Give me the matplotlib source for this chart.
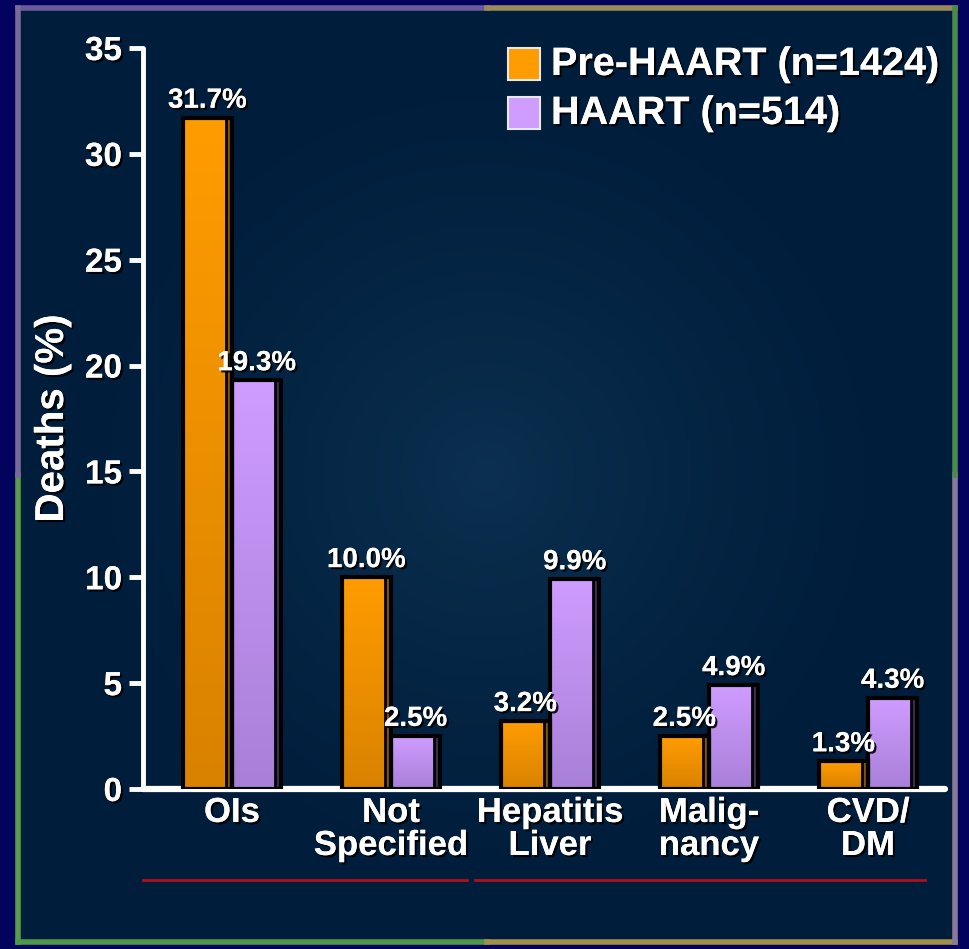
import numpy as np
import matplotlib
matplotlib.use("Agg")
import matplotlib.pyplot as plt
import matplotlib.patheffects as pe
from matplotlib.patches import Rectangle
from matplotlib.lines import Line2D
from matplotlib.colors import LinearSegmentedColormap

# Causes of death, share of all deaths (%)
categories = ["OIs", "Not\nSpecified", "Hepatitis\nLiver", "Malig-\nnancy", "CVD/\nDM"]
pre_haart = [31.7, 10.0, 3.2, 2.5, 1.3]
haart = [19.3, 2.5, 9.9, 4.9, 4.3]
series_names = ["Pre-HAART (n=1424)", "HAART (n=514)"]
y_ticks = [0, 5, 10, 15, 20, 25, 30, 35]

plt.rcParams["font.family"] = ["Liberation Sans", "DejaVu Sans"]
plt.rcParams["font.weight"] = "bold"

W, H = 969, 949
fig = plt.figure(figsize=(W / 100, H / 100), dpi=100)
fig.patch.set_facecolor("#03035e")

shadow = [pe.withSimplePatchShadow(offset=(1.6, -1.6), shadow_rgbFace="black", alpha=0.9),
          pe.Normal()]

# Slide panel with a soft radial glow
bg = fig.add_axes([18 / W, 1 - 942 / H, (955 - 18) / W, (942 - 8) / H])
yy, xx = np.mgrid[-1:1:300j, -1:1:300j]
r = np.sqrt(xx ** 2 + yy ** 2)
glow = np.clip(1 - r, 0, 1) ** 1.5
panel_cmap = LinearSegmentedColormap.from_list("panel", ["#001d3b", "#0c3050"])
bg.imshow(glow, cmap=panel_cmap, extent=[0, 1, 0, 1], aspect="auto", vmin=0, vmax=1)
bg.set_xlim(0, 1)
bg.set_ylim(0, 1)
bg.axis("off")
# textured frame edges
for (x0, y0, x1, y1, c) in [
    (0, 1, 0.5, 1, "#6a5a9a"), (0.5, 1, 1, 1, "#9a8a5a"),
    (0, 0, 0, 0.5, "#5a9a4a"), (0, 0.5, 0, 1, "#7a6a9a"),
    (0, 0, 0.5, 0, "#4a9a4a"), (0.5, 0, 1, 0, "#a0904a"),
    (1, 0, 1, 0.5, "#8a7a9a"), (1, 0.5, 1, 1, "#4a8a4a")]:
    bg.add_line(Line2D([x0, x1], [y0, y1], color=c, lw=4, transform=bg.transAxes, clip_on=False))

# Main chart axes
ax = fig.add_axes([143 / W, 1 - 789 / H, (945 - 143) / W, (789 - 48) / H])
ax.patch.set_alpha(0)
x = np.arange(len(categories))
w = 0.31
ax.set_xlim(-0.56, 4.484)
ax.set_ylim(0, 35)

orange_cmap = LinearSegmentedColormap.from_list("o", ["#d98200", "#ff9c00"])
purple_cmap = LinearSegmentedColormap.from_list("p", ["#a880d8", "#cf9cff"])
grad = np.linspace(0, 1, 256).reshape(-1, 1)

def draw_bars(positions, values, cmap, strip_color):
    bars = ax.bar(positions, values, width=w, facecolor="none", edgecolor="black",
                  linewidth=3, zorder=4)
    for b in bars:
        bx = b.get_x()
        bw, bh = b.get_width(), b.get_height()
        im = ax.imshow(grad, cmap=cmap, extent=[bx, bx + bw, 0, bh], aspect="auto",
                       origin="lower", zorder=3)
        im.set_clip_path(b)
        sw = bw * 0.12
        ax.add_patch(Rectangle((bx + bw - sw, 0), sw, bh, facecolor=strip_color,
                               edgecolor="black", linewidth=2, zorder=3.5))
    return bars

b1 = draw_bars(x - w / 2, pre_haart, orange_cmap, "#8a5400")
b2 = draw_bars(x + w / 2, haart, purple_cmap, "#3e2d55")
ax.set_xlim(-0.56, 4.484)
ax.set_ylim(0, 35)

for bars, vals in [(b1, pre_haart), (b2, haart)]:
    for b, v in zip(bars, vals):
        ax.annotate(f"{v:.1f}%", (b.get_x() + b.get_width() / 2, v),
                    xytext=(0, 3), textcoords="offset points", ha="center", va="bottom",
                    color="white", fontsize=20, fontweight="bold", zorder=6,
                    path_effects=shadow)

# Axes styling
for s in ["top", "right"]:
    ax.spines[s].set_visible(False)
ax.spines["left"].set_color("white")
ax.spines["left"].set_linewidth(3.5)
ax.spines["bottom"].set_color("white")
ax.spines["bottom"].set_linewidth(4.5)
ax.spines["bottom"].set_capstyle("round")
ax.spines["left"].set_capstyle("round")
ax.set_yticks(y_ticks)
ax.tick_params(axis="y", colors="white", length=10, width=3.5, pad=5, labelsize=24)
ax.set_xticks(x)
ax.set_xticklabels(categories, fontsize=25, fontweight="bold", color="white",
                   linespacing=1.0)
ax.tick_params(axis="x", length=0, pad=5)
for lab in ax.get_yticklabels() + ax.get_xticklabels():
    lab.set_fontweight("bold")
    lab.set_path_effects(shadow)
ax.set_ylabel("Deaths (%)", fontsize=29, fontweight="bold", color="white", labelpad=10)
ax.yaxis.label.set_path_effects(shadow)

# Group underlines
for (xa, xb) in [(143, 467), (475, 925)]:
    fig.add_artist(Line2D([xa / W, xb / W], [1 - 880 / H, 1 - 880 / H],
                          color="#b0101a", lw=2, transform=fig.transFigure))

# Legend
for i, (name, col) in enumerate(zip(series_names, ["#ff9c00", "#cf9cff"])):
    top = 48 + i * 49
    fig.add_artist(Rectangle((508 / W, 1 - (top + 32) / H), 32 / W, 32 / H,
                             facecolor=col, edgecolor="#e8e8e8", linewidth=1.5,
                             transform=fig.transFigure))
    fig.text(551 / W, 1 - (top + 16) / H, name, color="white", fontsize=28.5,
             fontweight="bold", va="center", ha="left", path_effects=shadow)

fig.savefig("out.png", dpi=100, facecolor=fig.get_facecolor())
